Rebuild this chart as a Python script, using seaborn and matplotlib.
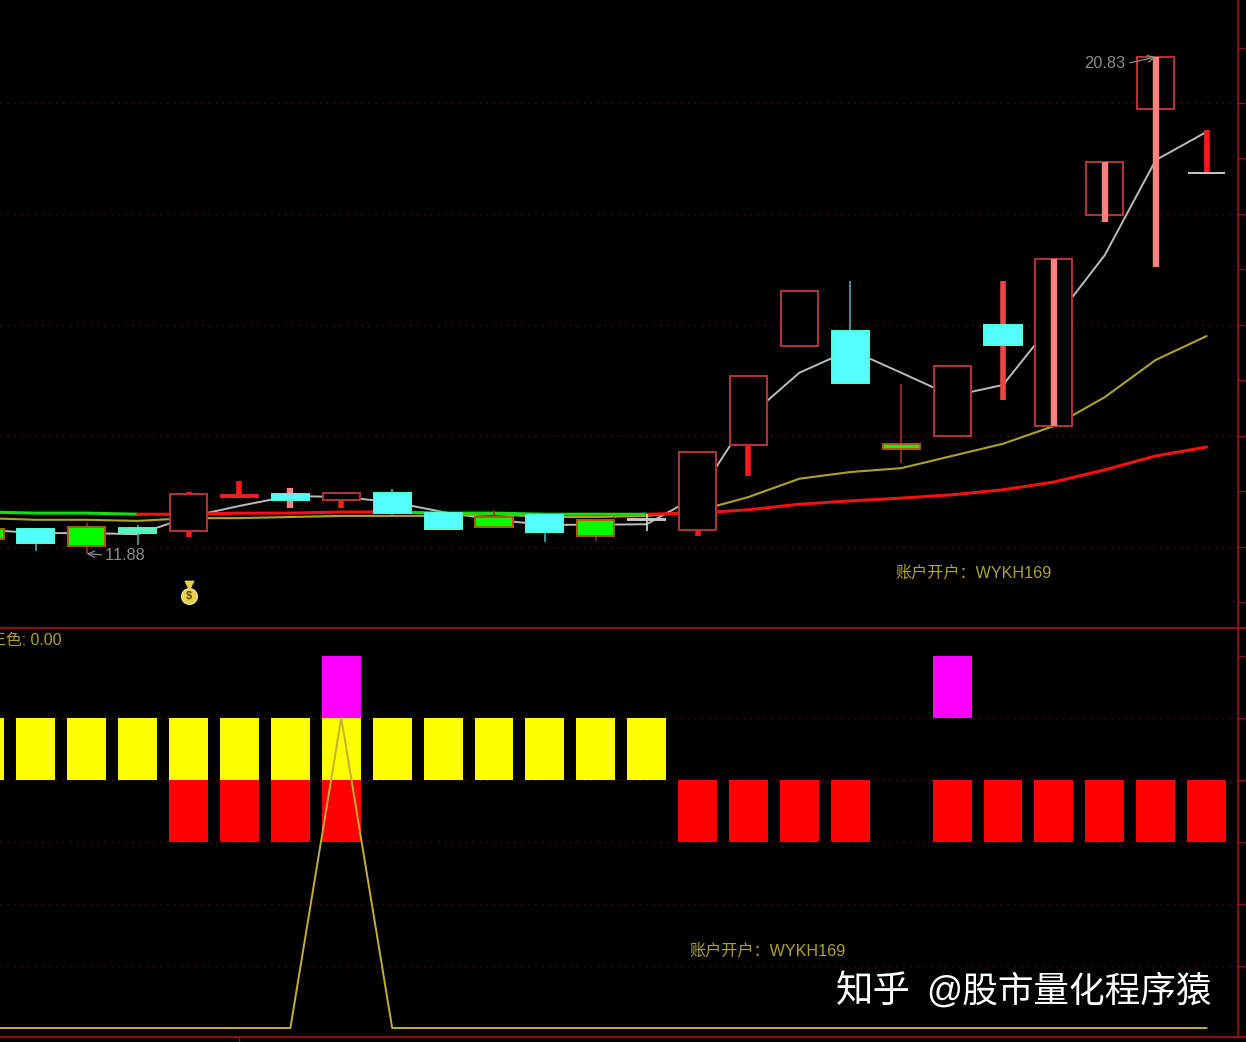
import numpy as np
import pandas as pd
import matplotlib
matplotlib.use('Agg')
from matplotlib import pyplot as plt
import seaborn as sns

# daily prices
days = list(range(25))
body_top = [12.32, 12.32, 12.36, 12.34, 12.95, 12.94, 12.95, 12.97, 12.97, 12.61, 12.54, 12.58, 12.49,
            12.50, 13.71, 15.08, 16.61, 15.89, 13.86, 15.26, 16.00, 17.19, 18.94, 20.83, 18.74]
body_bot = [12.14, 12.07, 12.02, 12.25, 12.29, 12.90, 12.85, 12.85, 12.61, 12.32, 12.36, 12.27, 12.20,
            12.49, 12.31, 13.84, 15.62, 14.95, 13.77, 14.00, 15.64, 14.18, 17.98, 19.89, 18.73]
high = [12.32, 12.32, 12.43, 12.40, 12.99, 13.19, 13.06, 12.97, 13.05, 12.61, 12.67, 12.58, 12.49,
        12.59, 13.71, 15.08, 16.61, 16.79, 14.94, 15.26, 16.79, 17.19, 18.94, 20.83, 19.51]
low = [12.14, 11.93, 11.88, 12.04, 12.18, 12.88, 12.70, 12.70, 12.56, 12.32, 12.36, 12.09, 12.11,
       12.29, 12.20, 13.28, 15.62, 14.95, 13.51, 14.00, 14.65, 14.18, 17.86, 17.05, 18.73]
body_kind = ['green', 'cyan', 'green', 'mint', 'hollow', 'flat_red', 'cyan', 'hollow', 'cyan', 'cyan', 'green', 'cyan', 'green',
             'flat_white', 'hollow', 'hollow', 'hollow', 'cyan', 'green', 'hollow', 'cyan', 'hollow', 'hollow', 'hollow', 'flat_white']
wick_kind = ['thin_red', 'thin_teal', 'thin_red', 'thin_teal', 'thick_red', 'thick_red', 'thick_pink', 'thick_red', 'thin_teal',
             'thin_teal', 'thin_red', 'thin_teal', 'thin_red', 'thin_white', 'thick_red', 'thick_red', 'thin_red', 'thin_teal',
             'thin_red', 'thin_red', 'thick_mid', 'thick_pink', 'thick_pink', 'thick_pink', 'thick_red']

# moving averages
ma5 = [12.31, 12.25, 12.25, 12.23, 12.54, 12.74, 12.92, 12.90, 12.81, 12.63, 12.49, 12.40, 12.40,
       12.41, 12.92, 14.34, 15.14, 15.55, 15.14, 14.72, 14.92, 16.07, 17.26, 18.97, 19.48]
ma10 = [12.52, 12.49, 12.49, 12.47, 12.52, 12.52, 12.54, 12.56, 12.56, 12.56, 12.59, 12.54, 12.54,
        12.56, 12.65, 12.90, 13.23, 13.35, 13.42, 13.64, 13.86, 14.18, 14.70, 15.37, 15.80]
ma20 = [12.63, 12.61, 12.61, 12.59, 12.59, 12.61, 12.61, 12.63, 12.63, 12.61, 12.61, 12.59, 12.59,
        12.59, 12.61, 12.67, 12.77, 12.83, 12.88, 12.94, 13.03, 13.17, 13.39, 13.64, 13.80]
ma20_green_parts = [(0, 3), (8, 13)]
ma20_red_parts = [(3, 8), (13, 24)]

# indicator panel
red_on = [0, 0, 0, 0, 1, 1, 1, 1, 0, 0, 0, 0, 0, 0, 1, 1, 1, 1, 0, 1, 1, 1, 1, 1, 1]
yellow_on = [1, 1, 1, 1, 1, 1, 1, 1, 1, 1, 1, 1, 1, 1, 0, 0, 0, 0, 0, 0, 0, 0, 0, 0, 0]
magenta_on = [0, 0, 0, 0, 0, 0, 0, 1, 0, 0, 0, 0, 0, 0, 0, 0, 0, 0, 0, 1, 0, 0, 0, 0, 0]
signal = [0, 0, 0, 0, 0, 0, 0, 5, 0, 0, 0, 0, 0, 0, 0, 0, 0, 0, 0, 0, 0, 0, 0, 0, 0]

df = pd.DataFrame({'day': days, 'top': body_top, 'bot': body_bot, 'high': high, 'low': low,
                   'body': body_kind, 'wick': wick_kind, 'ma5': ma5, 'ma10': ma10, 'ma20': ma20,
                   'red': red_on, 'yellow': yellow_on, 'magenta': magenta_on, 'signal': signal})

sns.set_theme(style='dark', rc={'axes.facecolor': 'black', 'figure.facecolor': 'black', 'axes.edgecolor': '#8c1010',
                                'axes.grid': False, 'savefig.facecolor': 'black'})
plt.rcParams['font.family'] = ['Liberation Sans', 'Noto Sans CJK SC', 'DejaVu Sans']
plt.rcParams['text.kerning_factor'] = 6

W, H = 1246, 1042
fig = plt.figure(figsize=(W / 100, H / 100), dpi=100)
ax = fig.add_axes([0, 1 - 628 / H, 1238 / W, 628 / H])
ax2 = fig.add_axes([0, 1 - 1037 / H, 1238 / W, 409 / H])
line_dark = '#8c1010'
grid_dark = '#5c1212'
gold = '#b0a428'

for a in (ax, ax2):
    a.set_xlim(0.295, 24.617)
    a.yaxis.tick_right()
    a.tick_params(axis='y', length=5, width=1, color=line_dark, labelright=False, right=True)
    a.tick_params(axis='x', length=0, labelbottom=False)
    for side in ('left', 'top', 'bottom'):
        a.spines[side].set_visible(False)
    a.spines['right'].set_color('#a01010')
    a.spines['right'].set_linewidth(1.2)

# price panel
ax.set_ylim(10.54, 21.856)
ax.set_yticks(range(11, 22))
for level in [12, 14, 16, 18, 20]:
    ax.axhline(level, color=grid_dark, lw=1, ls=(0, (1, 4)), zorder=1)

sns.lineplot(data=df, x='day', y='ma5', ax=ax, color='#bcbcbc', lw=1.4, estimator=None, zorder=2)
sns.lineplot(data=df, x='day', y='ma10', ax=ax, color='#b0a228', lw=1.5, estimator=None, zorder=2)
for parts, col in ((ma20_green_parts, '#10e010'), (ma20_red_parts, '#f81010')):
    for a, b in parts:
        sns.lineplot(data=df.iloc[a:b + 1], x='day', y='ma20', ax=ax, color=col, lw=2.2, estimator=None, zorder=2)

body_styles = {
    'hollow': ('black', '#b83434', 3),
    'cyan': ('#54ffff', '#54ffe0', 5),
    'mint': ('#60f0c0', '#60f0c0', 5),
    'green': ('#00ff00', '#b05a10', 5),
    'flat_red': ('#f02020', '#f02020', 5),
    'flat_white': ('#c8c8c8', '#c8c8c8', 5),
}
# red wicks stay behind a hollow body, pink ones run through it
wick_styles = {
    'thin_red': ('#a82828', 1.2, 2.5),
    'thin_teal': ('#4aa8a8', 1.2, 2.5),
    'thin_white': ('#d8d8d8', 1.2, 2.5),
    'thick_red': ('#ff1818', 4.0, 2.5),
    'thick_mid': ('#e84848', 4.0, 2.5),
    'thick_pink': ('#ff8080', 4.6, 4),
}
for _, row in df.iterrows():
    face, edge, z = body_styles[row['body']]
    ax.bar(row['day'], row['top'] - row['bot'], bottom=row['bot'], width=0.73, facecolor=face, edgecolor=edge, lw=1.4, zorder=z)
    col, lw, wz = wick_styles[row['wick']]
    ax.vlines(row['day'], row['low'], row['high'], color=col, lw=lw, zorder=wz)

label_col = '#8c8c8c'
ax.annotate('20.83', xy=(23, 20.83), xytext=(-22, -5), textcoords='offset points', ha='right', va='center',
            fontsize=11.8, color=label_col, zorder=7,
            arrowprops=dict(arrowstyle='->', color=label_col, lw=0.9, relpos=(1, 0.5), shrinkA=1, shrinkB=0))
ax.annotate('11.88', xy=(2, 11.88), xytext=(13, -1), textcoords='offset points', ha='left', va='center',
            fontsize=11.8, color=label_col, zorder=7,
            arrowprops=dict(arrowstyle='->', color=label_col, lw=0.9, relpos=(0, 0.5), shrinkA=0, shrinkB=0))
ax.text(17.88, 11.53, '账户开户：WYKH169', color=gold, fontsize=11.6, va='center')

# money bag marker under day 4
ax.scatter([4], [11.12], s=130, color='#e8d050', edgecolor='#f8f0b0', lw=0.8, zorder=6)
ax.scatter([4], [11.31], s=36, marker='v', color='#e8d050', zorder=6)
ax.text(4, 11.11, '$', color='#6a4a10', fontsize=8, ha='center', va='center', zorder=7, fontweight='bold')

# indicator panel
ax2.set_ylim(-0.145, 6.45)
ax2.set_yticks(range(1, 7))
for level in [1, 2, 3, 4, 5]:
    ax2.axhline(level, color=grid_dark, lw=1, ls=(0, (1, 4)), zorder=1)
ax2.axhline(6.45, xmax=1.01, color=line_dark, lw=1.6, clip_on=False, zorder=6)
ax2.axhline(-0.145, xmax=1.01, color=line_dark, lw=1.6, clip_on=False, zorder=6)
ax2.set_xticks([5])
ax2.tick_params(axis='x', length=4, width=1, color='#a01010', bottom=True, labelbottom=False)

for flag, base, col in (('red', 3, '#ff0000'), ('yellow', 4, '#ffff00'), ('magenta', 5, '#ff00ff')):
    part = df[df[flag] == 1]
    ax2.bar(part['day'], 1, bottom=base, width=0.765, color=col, lw=0, zorder=3)
sns.lineplot(data=df, x='day', y='signal', ax=ax2, color='#c4b030', lw=1.4, estimator=None, zorder=4)
ax2.text(13.83, 1.25, '账户开户：WYKH169', color=gold, fontsize=11.6, va='center')
for a in (ax, ax2):
    a.set_xlabel('')
    a.set_ylabel('')

fig.text(-10 / W, 1 - 640 / H, '正色: 0.00', color=gold, fontsize=11.4, va='center')

# site watermark
fig.text(836 / W, 1 - 992 / H, '知乎', color='white', fontsize=27, va='center')
fig.text(926 / W, 1 - 992 / H, '@股市量化程序猿', color='white', fontsize=25.7, va='center')

fig.savefig('out.png', dpi=100, facecolor='black')
